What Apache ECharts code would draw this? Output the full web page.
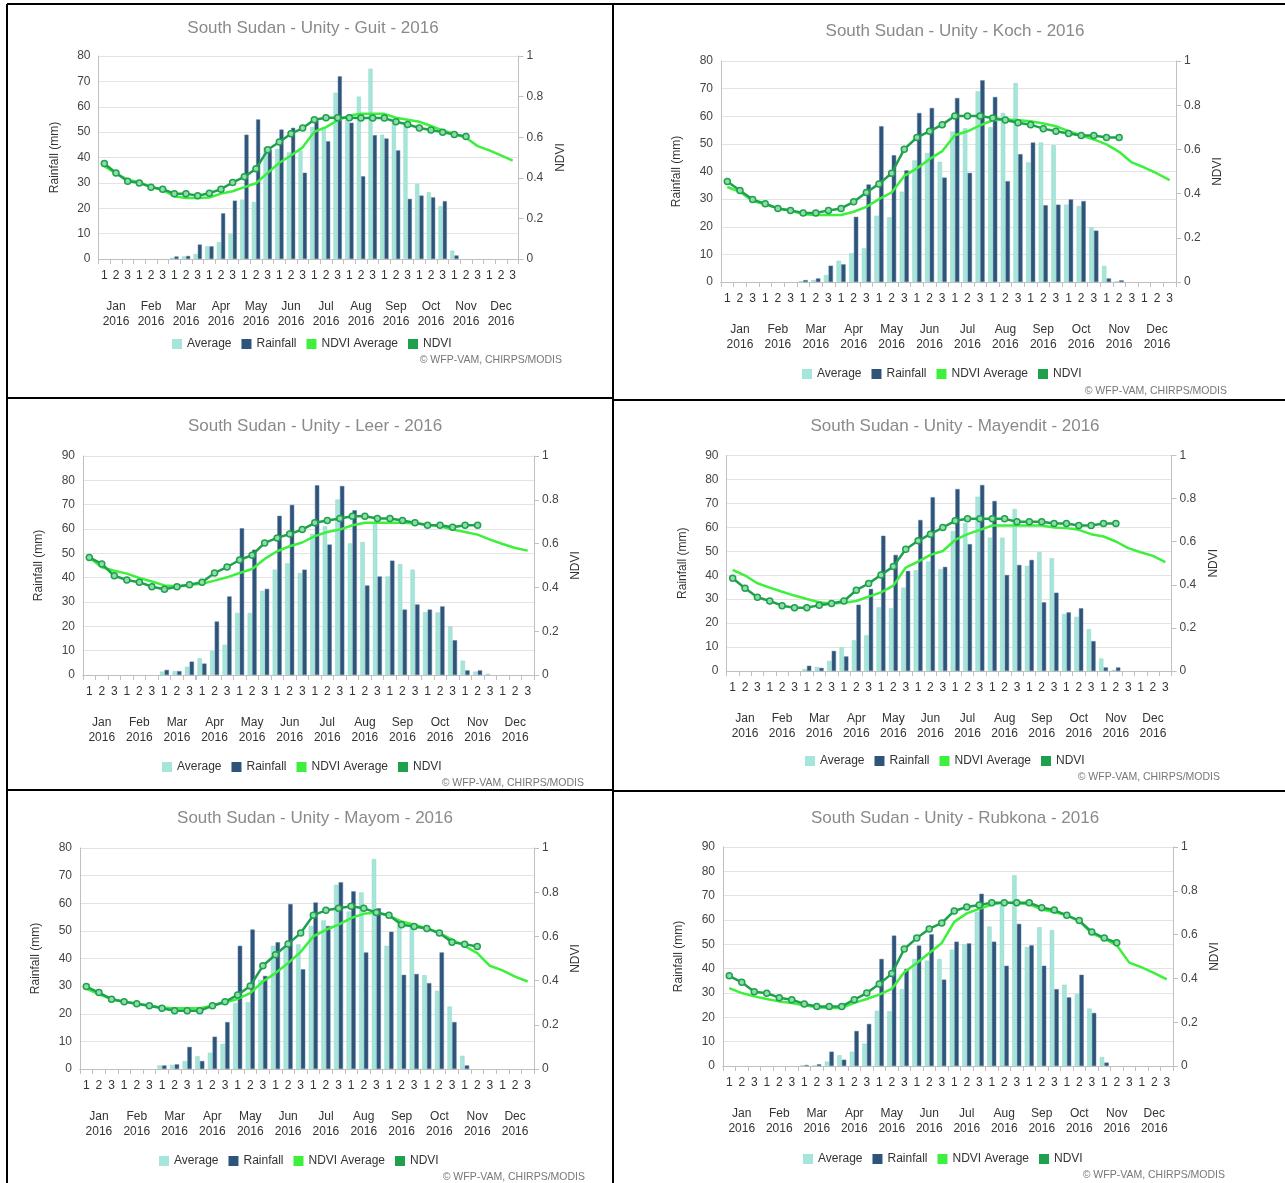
<!DOCTYPE html>
<html><head><meta charset="utf-8">
<script src="https://cdn.jsdelivr.net/npm/echarts@6/dist/echarts.min.js"></script>
<style>html,body{margin:0;padding:0;background:#fff}#c{width:1285px;height:1183px}</style>
</head><body><div id="c"></div>
<script>
// ---------- DATA ----------
const months = ['Jan','Feb','Mar','Apr','May','Jun','Jul','Aug','Sep','Oct','Nov','Dec'];
const yearLabel = '2016';
const dekadLabels = ['1','2','3'];
const seriesNames = ['Average','Rainfall','NDVI Average','NDVI'];
const panelTitles = ['South Sudan - Unity - Guit - 2016','South Sudan - Unity - Koch - 2016','South Sudan - Unity - Leer - 2016','South Sudan - Unity - Mayendit - 2016','South Sudan - Unity - Mayom - 2016','South Sudan - Unity - Rubkona - 2016'];
const creditText = '© WFP-VAM, CHIRPS/MODIS';

const guitAverage = [0,0,0,0,0,0, 0.5,1,2, 5,6.6,9.9, 23.4,22.5,44, 43.4,42,42.8, 52,51.7,65.5, 55,64,75, 49,53.7,53, 29.6,26.3,20.8, 3.3,0,0, 0,0,0];
const guitRainfall = [0,0,0,0,0,0, 1,1.2,5.7, 5,18,23, 49,55,43, 51,51.7,34, 54.6,46.4,72, 53.7,32.6,48.8, 47.5,42.8,23.7, 25,24.3,22.8, 1.4,0,0, 0,0,0];
const guitNdviAvg = [0.457,0.421,0.391,0.378,0.355,0.34,0.309,0.301,0.301,0.303,0.322,0.334,0.354,0.373,0.424,0.474,0.51,0.55,0.627,0.65,0.683,0.707,0.715,0.715,0.715,0.696,0.686,0.676,0.655,0.633,0.617,0.597,0.556,0.535,0.51,0.485];
const guitNdvi = [0.47,0.424,0.383,0.375,0.354,0.344,0.322,0.322,0.312,0.324,0.344,0.377,0.405,0.444,0.538,0.576,0.617,0.645,0.686,0.696,0.696,0.696,0.694,0.694,0.694,0.676,0.663,0.645,0.635,0.625,0.613,0.604,null,null,null,null];

const kochAverage = [0,0,0,0,0,0, 0.3,0.7,2.5, 7.7,10.4,12.2, 24,23.4,32.7, 44,46.7,43.5, 54.5,55.7,69, 56,61.2,72, 43.3,50.5,49.5, 28,27.5,19.8, 5.8,0.2,0, 0,0,0];
const kochRainfall = [0,0,0,0,0,0, 0.7,1.3,5.9, 6.4,23.6,35.3, 56.4,45.9,40.4, 61.2,63,37.8, 66.6,39.5,73, 67,36.5,46.3, 50.5,27.8,28, 29.9,29.3,18.6, 1.3,0.6,0, 0,0,0];
const kochNdviAvg = [0.43,0.408,0.366,0.352,0.333,0.324,0.306,0.303,0.303,0.303,0.318,0.34,0.375,0.405,0.48,0.514,0.556,0.592,0.664,0.682,0.709,0.732,0.736,0.732,0.727,0.717,0.705,0.682,0.664,0.645,0.623,0.589,0.541,0.518,0.491,0.461];
const kochNdvi = [0.455,0.414,0.373,0.354,0.333,0.324,0.312,0.312,0.324,0.333,0.363,0.405,0.444,0.492,0.601,0.654,0.682,0.712,0.751,0.751,0.751,0.742,0.733,0.721,0.712,0.694,0.682,0.672,0.663,0.663,0.654,0.654,null,null,null,null];

const leerAverage = [0,0,0,0,0,0, 1.4,1.6,3.4, 6.9,9.9,12.4, 25.5,25.5,34.6, 43.3,45.9,41.9, 58,61.1,72.1, 54.1,54.7,62.5, 40.5,45.6,43.3, 25.8,25.7,19.9, 5.9,1.4,0.5, 0,0,0];
const leerRainfall = [0,0,0,0,0,0, 2.1,1.6,5.5, 4.7,22,32.3, 60.3,51.5,35.4, 65.4,69.9,43.3, 78,53.6,77.7, 67.7,36.8,40.5, 47,26.9,29, 26.9,28.2,14.3, 1.9,1.9,0, 0,0,0];
const leerNdviAvg = [0.537,0.492,0.476,0.463,0.443,0.427,0.409,0.405,0.412,0.417,0.431,0.446,0.466,0.484,0.53,0.565,0.588,0.605,0.634,0.653,0.664,0.684,0.695,0.695,0.695,0.695,0.692,0.687,0.679,0.664,0.653,0.641,0.618,0.598,0.58,0.568];
const leerNdvi = [0.537,0.507,0.453,0.434,0.424,0.403,0.392,0.403,0.412,0.424,0.466,0.493,0.525,0.547,0.603,0.626,0.644,0.664,0.695,0.705,0.715,0.725,0.725,0.715,0.715,0.705,0.695,0.684,0.684,0.675,0.684,0.684,null,null,null,null];

const mayenditAverage = [0,0,0,0,0,0, 0.8,1.7,4.2, 9.9,12.8,14.9, 26.6,26.2,34.8, 42.1,45.7,42.6, 58.5,61.7,72.8, 55.7,55.7,67.7, 43.9,49.6,47.1, 23.8,22.6,17.5, 5.2,0.4,0, 0,0,0];
const mayenditRainfall = [0,0,0,0,0,0, 2.2,1.3,8.4, 6.1,27.7,34.3, 56.5,48.5,41.8, 63.1,72.6,43.5, 76,53,77.7, 71,40.1,44.3, 46.4,28.7,32.7, 24.5,26.2,12.5, 1.5,1.5,0, 0,0,0];
const mayenditNdviAvg = [0.469,0.443,0.407,0.387,0.368,0.35,0.334,0.319,0.313,0.317,0.325,0.345,0.365,0.396,0.48,0.508,0.539,0.557,0.608,0.635,0.655,0.675,0.675,0.675,0.675,0.675,0.666,0.663,0.655,0.635,0.624,0.601,0.57,0.551,0.534,0.505];
const mayenditNdvi = [0.43,0.384,0.342,0.325,0.303,0.294,0.294,0.305,0.313,0.325,0.375,0.406,0.446,0.485,0.565,0.604,0.635,0.666,0.697,0.706,0.706,0.706,0.706,0.693,0.693,0.693,0.684,0.684,0.675,0.675,0.684,0.684,null,null,null,null];

const mayomAverage = [0,0,0,0,0,0, 1.3,1.5,2.9, 4.6,5.9,9.1, 23.8,24.2,32.3, 44.6,44.1,45.1, 51.8,53.8,66.7, 57,63.9,76, 44.6,52.8,51.4, 34,28.3,22.6, 4.8,0,0, 0,0,0];
const mayomRainfall = [0,0,0,0,0,0, 1.3,1.7,8, 2.9,11.7,17, 44.6,50.5,33.7, 45.9,59.7,36.1, 60.3,51.8,67.6, 64.3,42.2,58.2, 49.7,34.1,34.4, 31.1,42.2,17, 1.3,0,0, 0,0,0];
const mayomNdviAvg = [0.364,0.338,0.316,0.304,0.295,0.286,0.278,0.275,0.275,0.275,0.286,0.301,0.317,0.343,0.396,0.434,0.479,0.53,0.6,0.63,0.653,0.683,0.702,0.708,0.693,0.668,0.653,0.637,0.615,0.585,0.557,0.524,0.467,0.446,0.418,0.396];
const mayomNdvi = [0.373,0.346,0.316,0.304,0.295,0.286,0.275,0.264,0.264,0.264,0.286,0.304,0.335,0.376,0.467,0.517,0.566,0.615,0.696,0.718,0.727,0.736,0.727,0.708,0.696,0.653,0.645,0.636,0.615,0.573,0.565,0.554,null,null,null,null];

const rubkonaAverage = [0,0,0,0,0,0, 0.2,0.2,1.8, 4.4,5.9,9.2, 22.7,22.5,31.6, 44,43.3,44, 47.8,49.9,63.3, 57.3,66,78.4, 48.9,57,55.8, 33.4,29.5,23.6, 3.7,0,0, 0,0,0];
const rubkonaRainfall = [0,0,0,0,0,0, 0.4,0.7,5.9, 2.6,14.4,17.3, 44,53.6,39.9, 49.5,54.1,35.5, 51.1,50.4,70.8, 51.1,41.2,58.4, 49.6,41.2,31.6, 28.2,37.5,21.8, 1.4,0,0, 0,0,0];
const rubkonaNdviAvg = [0.356,0.333,0.318,0.306,0.295,0.288,0.277,0.268,0.265,0.265,0.288,0.306,0.326,0.352,0.428,0.47,0.516,0.562,0.658,0.697,0.718,0.737,0.746,0.743,0.738,0.715,0.703,0.688,0.662,0.606,0.581,0.551,0.472,0.45,0.424,0.396];
const rubkonaNdvi = [0.412,0.382,0.339,0.332,0.312,0.303,0.283,0.272,0.272,0.272,0.303,0.333,0.374,0.422,0.534,0.584,0.626,0.653,0.708,0.726,0.735,0.746,0.746,0.746,0.746,0.723,0.712,0.688,0.664,0.612,0.584,0.563,null,null,null,null];

const rainMax = [80, 80, 90, 90, 80, 90];

// ---------- LAYOUT ----------
const panels = [
  {data:[guitAverage,guitRainfall,guitNdviAvg,guitNdvi], grid:{left:98.5,top:56,width:420,height:203}, titleX:308,titleY:15, legendX:167,legendY:333, creditX:562,creditY:355},
  {data:[kochAverage,kochRainfall,kochNdviAvg,kochNdvi], grid:{left:721,top:61,width:455,height:221}, titleX:950,titleY:18, legendX:797,legendY:363, creditX:1227,creditY:386},
  {data:[leerAverage,leerRainfall,leerNdviAvg,leerNdvi], grid:{left:83,top:456,width:451,height:219}, titleX:310,titleY:413, legendX:157,legendY:756, creditX:584,creditY:778},
  {data:[mayenditAverage,mayenditRainfall,mayenditNdviAvg,mayenditNdvi], grid:{left:726.5,top:455.5,width:445,height:215.5}, titleX:950,titleY:413, legendX:800,legendY:750, creditX:1220,creditY:772},
  {data:[mayomAverage,mayomRainfall,mayomNdviAvg,mayomNdvi], grid:{left:80,top:848,width:454,height:221}, titleX:310,titleY:805, legendX:154,legendY:1150, creditX:585,creditY:1172},
  {data:[rubkonaAverage,rubkonaRainfall,rubkonaNdviAvg,rubkonaNdvi], grid:{left:723,top:847,width:450,height:219}, titleX:950,titleY:805, legendX:798,legendY:1148, creditX:1225,creditY:1170}
];

const FONT = 'Liberation Sans, Arial, sans-serif';
const colAvg = '#a6e6da', colRain = '#2f5479', colNdviAvg = '#3cf03c', colNdvi = '#1ea14c';
const dekadAxisData = [];
months.forEach(() => dekadLabels.forEach(d => dekadAxisData.push(d)));
const monthAxisData = months.map(m => m + '\n' + yearLabel);

const option = {animation:false, backgroundColor:'#fff', grid:[], xAxis:[], yAxis:[], series:[], title:[], legend:[], graphic:[]};

panels.forEach((p, i) => {
  option.grid.push(Object.assign({containLabel:false}, p.grid));
  option.xAxis.push({type:'category', gridIndex:i, data:dekadAxisData, position:'bottom',
    axisLine:{lineStyle:{color:'#c0c0c0'}}, axisTick:{show:true, length:5, lineStyle:{color:'#c0c0c0'}},
    axisLabel:{interval:0, color:'#333', fontSize:12, fontFamily:FONT, margin:11}});
  option.xAxis.push({type:'category', gridIndex:i, data:monthAxisData, position:'bottom', offset:32,
    axisLine:{lineStyle:{color:'#c0c0c0'}}, axisTick:{show:true, length:5, lineStyle:{color:'#c0c0c0'}},
    axisLabel:{interval:0, color:'#333', fontSize:12, fontFamily:FONT, lineHeight:15, margin:8}});
  option.yAxis.push({type:'value', gridIndex:i, min:0, max:rainMax[i], interval:10, position:'left',
    name:'Rainfall (mm)', nameLocation:'middle', nameGap:38, nameRotate:90,
    nameTextStyle:{color:'#333', fontSize:12, fontFamily:FONT},
    axisLine:{show:true, lineStyle:{color:'#c0c0c0'}}, axisTick:{show:false},
    axisLabel:{color:'#444', fontSize:12, fontFamily:FONT},
    splitLine:{lineStyle:{color:'#e3e3e3'}}});
  option.yAxis.push({type:'value', gridIndex:i, min:0, max:1, interval:0.2, position:'right',
    name:'NDVI', nameLocation:'middle', nameGap:36, nameRotate:90,
    nameTextStyle:{color:'#333', fontSize:12, fontFamily:FONT},
    axisLine:{show:true, lineStyle:{color:'#c0c0c0'}}, axisTick:{show:true, length:5, lineStyle:{color:'#c0c0c0'}},
    axisLabel:{color:'#444', fontSize:12, fontFamily:FONT, formatter:v => (v===0||v===1) ? String(v) : v.toFixed(1)},
    splitLine:{show:false}});
  const xi = 2*i, yl = 2*i, yr = 2*i+1;
  const bars = arr => arr.map(v => v === 0 ? null : v);
  option.series.push({name:seriesNames[0], type:'bar', xAxisIndex:xi, yAxisIndex:yl, data:bars(p.data[0]),
    barCategoryGap:'28%', barGap:'6%', itemStyle:{color:colAvg, borderColor:'#8fd6c8', borderWidth:0.5}});
  option.series.push({name:seriesNames[1], type:'bar', xAxisIndex:xi, yAxisIndex:yl, data:bars(p.data[1]),
    barCategoryGap:'28%', barGap:'6%', itemStyle:{color:colRain, borderColor:'#5b7fa3', borderWidth:0.5}});
  option.series.push({name:seriesNames[2], type:'line', xAxisIndex:xi, yAxisIndex:yr, data:p.data[2],
    showSymbol:false, symbol:'none', lineStyle:{color:colNdviAvg, width:2.5}, itemStyle:{color:colNdviAvg}, z:3});
  option.series.push({name:seriesNames[3], type:'line', xAxisIndex:xi, yAxisIndex:yr, data:p.data[3],
    symbol:'circle', symbolSize:6, lineStyle:{color:colNdvi, width:2.5},
    itemStyle:{color:'#8fdcaa', borderColor:colNdvi, borderWidth:1.5}, z:4});
  option.title.push({text:panelTitles[i], left:p.titleX, top:p.titleY, textAlign:'center',
    textStyle:{color:'#8a8a8a', fontSize:17, fontWeight:'normal', fontFamily:FONT}});
  option.legend.push({left:p.legendX, top:p.legendY, itemWidth:10, itemHeight:10, itemGap:10,
    icon:'rect', selectedMode:false, textStyle:{color:'#333', fontSize:12, fontFamily:FONT},
    data:[{name:seriesNames[0], itemStyle:{color:colAvg, borderWidth:0}},
          {name:seriesNames[1], itemStyle:{color:colRain, borderWidth:0}},
          {name:seriesNames[2], itemStyle:{color:colNdviAvg}},
          {name:seriesNames[3], itemStyle:{color:colNdvi, borderWidth:0}}]});
  option.graphic.push({type:'text', x:p.creditX, y:p.creditY,
    style:{text:creditText, fill:'#777', fontSize:10.5, fontFamily:FONT, textAlign:'right'}});
});

// table borders
const bl = (x1,y1,x2,y2) => ({type:'line', shape:{x1,y1,x2,y2}, style:{stroke:'#000', lineWidth:2}});
option.graphic.push(bl(7,4,1285,4), bl(7,4,7,1183), bl(613,4,613,1183),
  bl(7,398,613,398), bl(613,400,1285,400), bl(7,790,613,790), bl(613,791,1285,791));

const chart = echarts.init(document.getElementById('c'), null, {renderer:'canvas'});
chart.setOption(option);
</script>
</body></html>
